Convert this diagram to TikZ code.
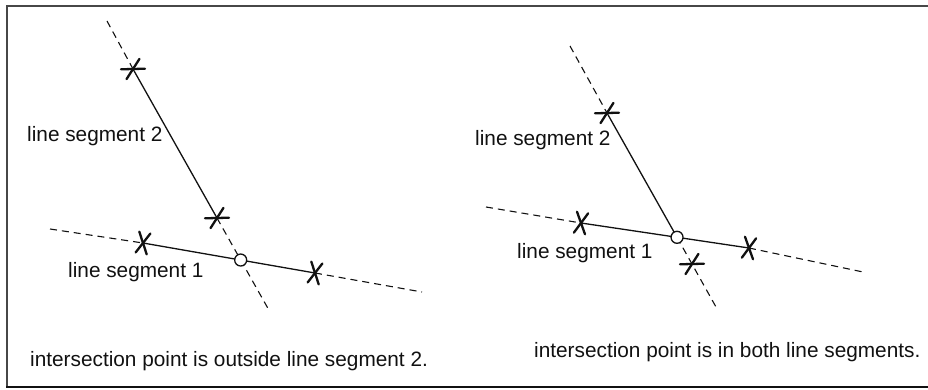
\documentclass[tikz,border=0pt]{standalone}
\usepackage{fontspec}
\setmainfont{Liberation Sans}
\usetikzlibrary{calc}
\definecolor{cInk}{HTML}{111111}
\definecolor{cFrame}{HTML}{474747}

% end mark of a segment: two short strokes across the line through #1 and #2
\newcommand{\segmark}[2]{%
  \draw[mk] ($(#1)!12pt!62:(#2)$) -- ($(#1)!12pt!242:(#2)$);
  \draw[mk] ($(#1)!12pt!118:(#2)$) -- ($(#1)!12pt!298:(#2)$);}

\begin{document}
\begin{tikzpicture}[
  x=1pt,y=-1pt,
  font=\fontsize{20.8}{24}\selectfont,
  seg/.style={line width=1.3pt,color=cInk},
  ext/.style={line width=1.1pt,color=cInk,dash pattern=on 7pt off 5pt},
  mk/.style={line width=2.3pt,color=cInk,line cap=round},
  hit/.style={circle,draw=cInk,fill=white,line width=1.3pt,inner sep=0pt,minimum size=12pt},
  lbl/.style={anchor=base west,inner sep=0pt,color=cInk},
  frame/.style={line width=2pt,color=cFrame},
]
\useasboundingbox (0,0) rectangle (928,390);

% frame
\draw[frame] (935,6) -- (7,6) -- (7,387);
\draw[line width=2.6pt,color=cInk] (6,387) -- (935,387);

% ====================================================== LEFT: outside segment 2
\coordinate (a0) at (107,21);
\coordinate (a1) at (133,69);
\coordinate (a2) at (217,218);
\coordinate (a3) at (270,312);
\coordinate (b0) at (50,229);
\coordinate (b1) at (143,243);
\coordinate (b2) at (315,273);
\coordinate (b3) at (422,292);
\coordinate (i1) at (intersection of a1--a2 and b1--b2);

\draw[ext] (a0) -- (a1);
\draw[seg] (a1) -- (a2);
\draw[ext] (a2) -- (a3);
\draw[ext] (b0) -- (b1);
\draw[seg] (b1) -- (b2);
\draw[ext] (b2) -- (b3);
\node[hit] (x1) at (i1) {};

\segmark{a1}{a2}
\segmark{a2}{a1}
\segmark{b1}{b2}
\segmark{b2}{b1}

\node[lbl] (ls2a) at (27,142) {line segment 2};
\node[lbl] (ls1a) at (68,277) {line segment 1};
\node[lbl] (capa) at (30,366) {intersection point is outside line segment 2.};

% ====================================================== RIGHT: inside both
\coordinate (c0) at (570,46);
\coordinate (c1) at (607,113);
\coordinate (c2) at (692,264);
\coordinate (c3) at (716,307);
\coordinate (d0) at (486,207);
\coordinate (d1) at (581,223);
\coordinate (d2) at (749,248);
\coordinate (d3) at (863,272);
\coordinate (i2) at (intersection of c1--c2 and d1--d2);

\draw[ext] (c0) -- (c1);
\draw[seg] (c1) -- (i2);
\draw[ext] (i2) -- (c3);
\draw[ext] (d0) -- (d1);
\draw[seg] (d1) -- (d2);
\draw[ext] (d2) -- (d3);
\node[hit] (x2) at (i2) {};

\segmark{c1}{c2}
\segmark{c2}{c1}
\segmark{d1}{d2}
\segmark{d2}{d1}

\node[lbl] (ls2b) at (475,146) {line segment 2};
\node[lbl] (ls1b) at (517,258) {line segment 1};
\node[lbl] (capb) at (534,357) {intersection point is in both line segments.};

\end{tikzpicture}
\end{document}
